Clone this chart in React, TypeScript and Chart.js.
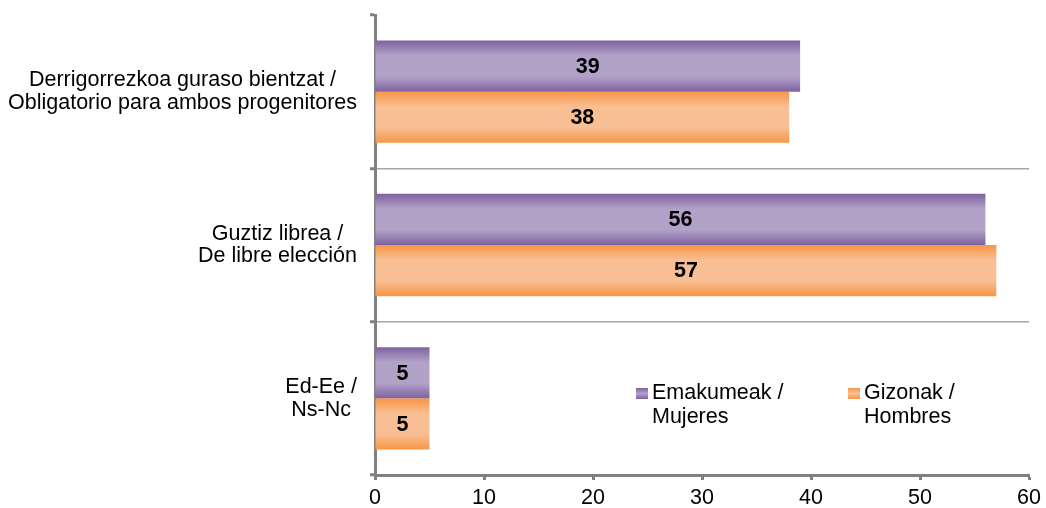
import { useEffect, useRef } from 'react';
import { Chart, registerables } from 'chart.js';

Chart.register(...registerables);

const categories: string[][] = [
  ['Derrigorrezkoa guraso bientzat /', 'Obligatorio para ambos progenitores'],
  ['Guztiz librea /', 'De libre elección'],
  ['Ed-Ee /', 'Ns-Nc'],
];
const seriesNames: string[][] = [
  ['Emakumeak /', 'Mujeres'],
  ['Gizonak /', 'Hombres'],
];
const mujeres = [39, 56, 5];
const hombres = [38, 57, 5];
const xMin = 0;
const xMax = 60;
const xStep = 10;

const FONT = "'Liberation Sans', Arial, sans-serif";
const FS = 21.5;
const AXIS = '#808080';
const GRID = '#a6a6a6';
const CAT_PCT = 0.667;

const palettes = [
  { dark: '#7e62a0', light: '#b3a2c8' },
  { dark: '#f79646', light: '#f9bf94' },
];

function barGradient(c: any) {
  const chart = c.chart;
  const y = chart.scales && chart.scales.y;
  const p = palettes[c.datasetIndex] || palettes[0];
  if (!y || c.dataIndex === undefined) return p.dark;
  const center = y.getPixelForValue(c.dataIndex);
  const cat = (y.bottom - y.top) / categories.length;
  if (!isFinite(center) || !isFinite(cat) || cat <= 0) return p.dark;
  const half = (cat * CAT_PCT) / 2;
  const top = c.datasetIndex === 0 ? center - half : center;
  const bottom = c.datasetIndex === 0 ? center : center + half;
  if (!isFinite(top) || !isFinite(bottom) || bottom <= top) return p.dark;
  const g = chart.ctx.createLinearGradient(0, top, 0, bottom);
  g.addColorStop(0, p.dark);
  g.addColorStop(0.3, p.light);
  g.addColorStop(0.7, p.light);
  g.addColorStop(1, p.dark);
  return g;
}

const overlay = {
  id: 'overlay',
  afterDraw(chart: any) {
    const ctx = chart.ctx;
    const y = chart.scales.y;
    const area = chart.chartArea;
    ctx.save();
    ctx.font = `${FS}px ${FONT}`;
    ctx.fillStyle = '#000';
    ctx.textBaseline = 'middle';
    ctx.textAlign = 'center';
    const lh = 22.5;
    categories.forEach((lines, i) => {
      const cy = y.getPixelForValue(i);
      const w = Math.max(...lines.map((l) => ctx.measureText(l).width));
      const cx = area.left - 18 - w / 2;
      lines.forEach((l, j) => ctx.fillText(l, cx, cy + (j - (lines.length - 1) / 2) * lh));
    });
    ctx.font = `bold 21.5px ${FONT}`;
    chart.data.datasets.forEach((ds: any, di: number) => {
      const meta = chart.getDatasetMeta(di);
      meta.data.forEach((el: any, i: number) => {
        const { x, y: ey, base } = el.getProps(['x', 'y', 'base'], true);
        ctx.fillText(String(ds.data[i]), (x + base) / 2, ey + 1);
      });
    });
    ctx.font = `${FS}px ${FONT}`;
    ctx.textAlign = 'left';
    ctx.textBaseline = 'alphabetic';
    const legendX = [area.left + 261, area.left + 473];
    const legendY = area.top + 384;
    seriesNames.forEach((lines, si) => {
      const p = palettes[si];
      const sx = legendX[si];
      const g = ctx.createLinearGradient(0, legendY - 11, 0, legendY);
      g.addColorStop(0, p.dark);
      g.addColorStop(0.5, p.light);
      g.addColorStop(1, p.dark);
      ctx.fillStyle = g;
      ctx.fillRect(sx, legendY - 11, 12, 11);
      ctx.fillStyle = '#000';
      lines.forEach((l, j) => ctx.fillText(l, sx + 16, legendY + j * 24));
    });
    ctx.restore();
  },
};

export default function App() {
  const ref = useRef<HTMLCanvasElement | null>(null);
  useEffect(() => {
    document.body.style.margin = '0';
    document.body.style.overflow = 'hidden';
    const canvas = ref.current;
    if (!canvas) return;
    Chart.defaults.font.family = FONT;
    const chart = new Chart(canvas, {
      type: 'bar',
      data: {
        labels: categories.map((c) => c.join(' ')),
        datasets: [
          { label: seriesNames[0].join(' '), data: mujeres, backgroundColor: barGradient as any, borderWidth: 0 },
          { label: seriesNames[1].join(' '), data: hombres, backgroundColor: barGradient as any, borderWidth: 0 },
        ],
      },
      options: {
        indexAxis: 'y',
        responsive: false,
        animation: false,
        devicePixelRatio: 1,
        layout: { padding: { top: 15, right: 15, left: 0, bottom: 0 } },
        datasets: { bar: { categoryPercentage: CAT_PCT, barPercentage: 1 } },
        plugins: { legend: { display: false }, tooltip: { enabled: false }, title: { display: false } },
        scales: {
          x: {
            min: xMin,
            max: xMax,
            z: 1,
            ticks: { stepSize: xStep, color: '#000', font: { size: FS, family: FONT }, padding: 5 },
            grid: { drawOnChartArea: false, drawTicks: true, tickLength: 5, tickColor: AXIS, tickWidth: 3 },
            border: { color: AXIS, width: 3 },
            afterFit: (s: any) => { s.height = 33; },
          },
          y: {
            z: 1,
            ticks: { display: false },
            grid: {
              offset: true,
              drawTicks: true,
              tickLength: 5,
              tickWidth: 3,
              tickColor: AXIS,
              lineWidth: 1.5,
              color: (c: any) => (c.index === 1 || c.index === 2 ? GRID : 'rgba(0,0,0,0)'),
            },
            border: { color: AXIS, width: 3 },
            afterFit: (s: any) => { s.width = 375; },
          },
        },
      },
      plugins: [overlay],
    });
    return () => chart.destroy();
  }, []);
  return <canvas ref={ref} width={1046} height={508} style={{ display: 'block', width: 1046, height: 508 }} />;
}
